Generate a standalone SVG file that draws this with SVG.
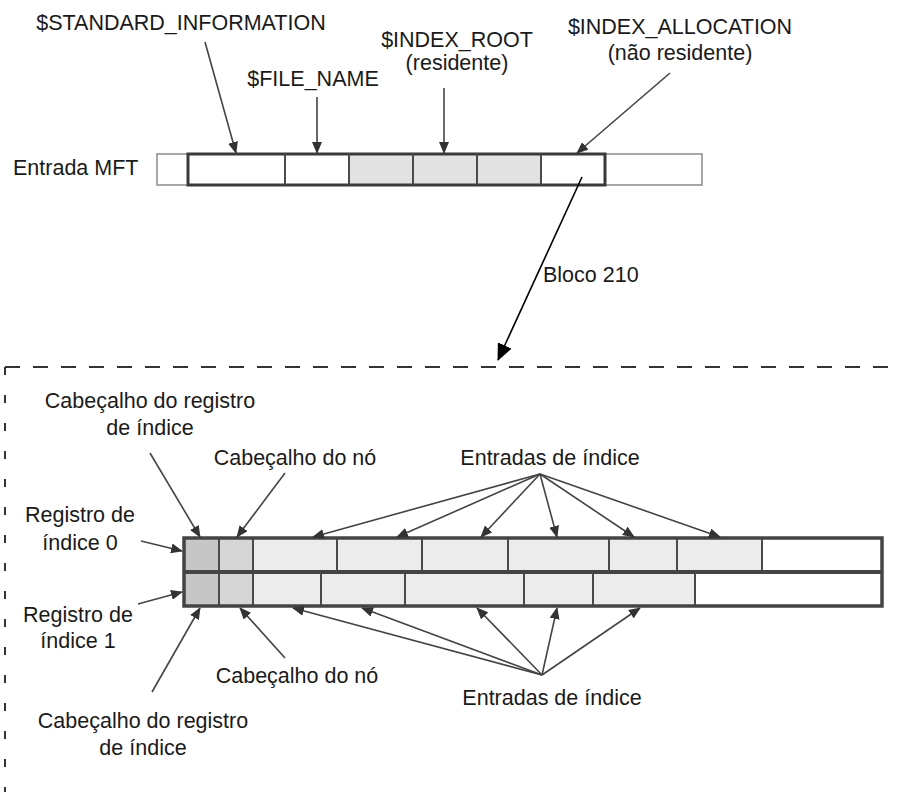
<svg xmlns="http://www.w3.org/2000/svg" width="897" height="792" viewBox="0 0 897 792">
  <style>
    .lbl { font-family: "Liberation Sans", Arial, Helvetica, sans-serif; font-size: 21.5px; fill: #1a1a1a; }
    .mid { text-anchor: middle; }
    .frame { fill: none; stroke: #3a3a3a; stroke-width: 3; }
    .thin { fill: none; stroke: #8a8a8a; stroke-width: 1.5; }
    .div { stroke: #4a4a4a; stroke-width: 2; }
    .ptr { stroke: #444; stroke-width: 1.6; fill: none; marker-end: url(#ah); }
    .dash { stroke: #333; stroke-width: 2; fill: none; }
  </style>
  <defs>
    <marker id="ah" markerWidth="12" markerHeight="10" refX="11" refY="5" orient="auto" markerUnits="userSpaceOnUse">
      <path d="M0,0 L12,5 L0,10 z" fill="#333"/>
    </marker>
    <marker id="ahBig" markerWidth="17" markerHeight="15" refX="16" refY="7.5" orient="auto" markerUnits="userSpaceOnUse">
      <path d="M0,0 L17,7.5 L0,15 z" fill="#000"/>
    </marker>
  </defs>
  <rect width="897" height="792" fill="#fff"/>

  <!-- MFT entry -->
  <g id="mft-label">
    <text class="lbl" x="13" y="175">Entrada MFT</text>
  </g>
  <g id="mft-entry">
    <rect x="157" y="154" width="545" height="31" fill="#fff"/>
    <rect x="349" y="154" width="192" height="31" fill="#e2e2e2"/>
    <rect class="thin" x="157" y="154" width="545" height="31"/>
    <rect class="frame" x="188" y="154" width="417" height="31"/>
    <line class="div" x1="285" y1="154" x2="285" y2="185"/>
    <line class="div" x1="349" y1="154" x2="349" y2="185"/>
    <line class="div" x1="413" y1="154" x2="413" y2="185"/>
    <line class="div" x1="477" y1="154" x2="477" y2="185"/>
    <line class="div" x1="541" y1="154" x2="541" y2="185"/>
  </g>

  <!-- attribute labels -->
  <g id="attr-std">
    <text class="lbl mid" x="181" y="30">$STANDARD_INFORMATION</text>
  </g>
  <g id="attr-filename">
    <text class="lbl mid" x="313" y="86">$FILE_NAME</text>
  </g>
  <g id="attr-indexroot">
    <text class="lbl mid" x="457" y="47">$INDEX_ROOT</text>
    <text class="lbl mid" x="457" y="70">(residente)</text>
  </g>
  <g id="attr-indexalloc">
    <text class="lbl mid" x="680" y="34">$INDEX_ALLOCATION</text>
    <text class="lbl mid" x="680" y="60">(não residente)</text>
  </g>
  <g id="block-label">
    <text class="lbl" x="543" y="282">Bloco 210</text>
  </g>

  <!-- index buffer region -->
  <g id="index-buffer">
    <line class="dash" x1="5" y1="367" x2="897" y2="367" stroke-dasharray="15 13"/>
    <line class="dash" x1="5" y1="367" x2="5" y2="792" stroke-dasharray="8 20"/>
  </g>

  <g id="index-records">
    <!-- record 0 -->
    <rect x="184" y="538" width="698" height="34" fill="#fff"/>
    <rect x="184" y="538" width="35" height="34" fill="#c6c6c6"/>
    <rect x="219" y="538" width="34" height="34" fill="#d6d6d6"/>
    <rect x="253" y="538" width="509" height="34" fill="#ececec"/>
    <!-- record 1 -->
    <rect x="184" y="572" width="698" height="34" fill="#fff"/>
    <rect x="184" y="572" width="35" height="34" fill="#c6c6c6"/>
    <rect x="219" y="572" width="34" height="34" fill="#d6d6d6"/>
    <rect x="253" y="572" width="442" height="34" fill="#ececec"/>
    <!-- cell dividers, record 0 -->
    <line class="div" x1="219" y1="538" x2="219" y2="572"/>
    <line class="div" x1="253" y1="538" x2="253" y2="572"/>
    <line class="div" x1="337" y1="538" x2="337" y2="572"/>
    <line class="div" x1="422" y1="538" x2="422" y2="572"/>
    <line class="div" x1="508" y1="538" x2="508" y2="572"/>
    <line class="div" x1="609" y1="538" x2="609" y2="572"/>
    <line class="div" x1="677" y1="538" x2="677" y2="572"/>
    <line class="div" x1="762" y1="538" x2="762" y2="572"/>
    <!-- cell dividers, record 1 -->
    <line class="div" x1="219" y1="572" x2="219" y2="606"/>
    <line class="div" x1="253" y1="572" x2="253" y2="606"/>
    <line class="div" x1="321" y1="572" x2="321" y2="606"/>
    <line class="div" x1="405" y1="572" x2="405" y2="606"/>
    <line class="div" x1="524" y1="572" x2="524" y2="606"/>
    <line class="div" x1="593" y1="572" x2="593" y2="606"/>
    <line class="div" x1="695" y1="572" x2="695" y2="606"/>
    <rect x="184" y="538" width="698" height="68" fill="none" stroke="#444" stroke-width="3.5"/>
    <line x1="184" y1="572" x2="882" y2="572" stroke="#444" stroke-width="4"/>
  </g>

  <!-- labels around the index records -->
  <g id="rec-header-top">
    <text class="lbl mid" x="150" y="408">Cabeçalho do registro</text>
    <text class="lbl mid" x="150" y="435">de índice</text>
  </g>
  <g id="node-header-top">
    <text class="lbl mid" x="295" y="465">Cabeçalho do nó</text>
  </g>
  <g id="entries-top">
    <text class="lbl mid" x="550" y="465">Entradas de índice</text>
  </g>
  <g id="record-0">
    <text class="lbl mid" x="80" y="522">Registro de</text>
    <text class="lbl mid" x="80" y="550">índice 0</text>
  </g>
  <g id="record-1">
    <text class="lbl mid" x="78" y="622">Registro de</text>
    <text class="lbl mid" x="78" y="648">índice 1</text>
  </g>
  <g id="node-header-bottom">
    <text class="lbl mid" x="297" y="683">Cabeçalho do nó</text>
  </g>
  <g id="entries-bottom">
    <text class="lbl mid" x="552" y="705">Entradas de índice</text>
  </g>
  <g id="rec-header-bottom">
    <text class="lbl mid" x="143" y="728">Cabeçalho do registro</text>
    <text class="lbl mid" x="143" y="755">de índice</text>
  </g>

  <!-- connectors -->
  <g id="connectors">
    <line class="ptr" x1="205" y1="42" x2="236" y2="153"/>
    <line class="ptr" x1="317" y1="97" x2="317" y2="153"/>
    <line class="ptr" x1="444" y1="88" x2="444" y2="153"/>
    <line class="ptr" x1="670" y1="73" x2="577" y2="153"/>
    <line x1="582" y1="177" x2="498" y2="360" stroke="#000" stroke-width="1.6" marker-end="url(#ahBig)"/>

    <line class="ptr" x1="150" y1="453" x2="200" y2="537"/>
    <line class="ptr" x1="285" y1="473" x2="237" y2="537"/>
    <line class="ptr" x1="141" y1="541" x2="182" y2="551"/>
    <line class="ptr" x1="540" y1="474" x2="313" y2="537"/>
    <line class="ptr" x1="540" y1="474" x2="397" y2="537"/>
    <line class="ptr" x1="540" y1="474" x2="481" y2="537"/>
    <line class="ptr" x1="540" y1="474" x2="557" y2="537"/>
    <line class="ptr" x1="540" y1="474" x2="634" y2="537"/>
    <line class="ptr" x1="540" y1="474" x2="720" y2="537"/>

    <line class="ptr" x1="138" y1="604" x2="182" y2="592"/>
    <line class="ptr" x1="152" y1="692" x2="200" y2="608"/>
    <line class="ptr" x1="285" y1="658" x2="240" y2="608"/>
    <line class="ptr" x1="542" y1="675" x2="293" y2="608"/>
    <line class="ptr" x1="542" y1="675" x2="362" y2="608"/>
    <line class="ptr" x1="542" y1="675" x2="477" y2="608"/>
    <line class="ptr" x1="542" y1="675" x2="557" y2="608"/>
    <line class="ptr" x1="542" y1="675" x2="640" y2="608"/>
  </g>
</svg>
